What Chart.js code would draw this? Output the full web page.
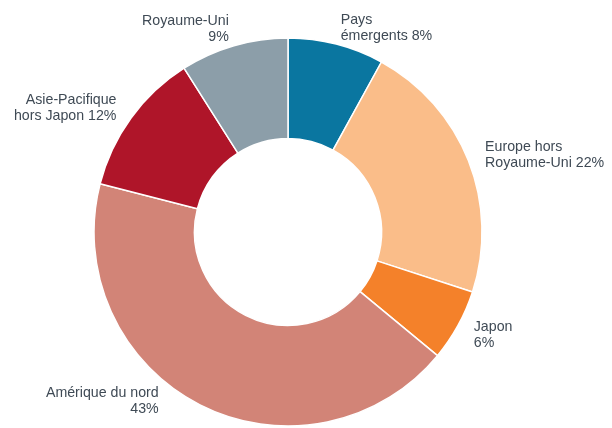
<!DOCTYPE html>
<html>
<head>
<meta charset="utf-8">
<script src="https://cdn.jsdelivr.net/npm/chart.js@4/dist/chart.umd.min.js"></script>
<style>
  html, body { margin: 0; padding: 0; background: #ffffff; }
  #wrap { width: 612px; height: 428px; position: relative; }
</style>
</head>
<body>
<div id="wrap"><canvas id="c" width="612" height="428"></canvas></div>
<script>
// Categories (each entry = the lines of its label, before the percentage)
const categories = [
  ['Pays', 'émergents'],
  ['Europe hors', 'Royaume-Uni'],
  ['Japon'],
  ['Amérique du nord'],
  ['Asie-Pacifique', 'hors Japon'],
  ['Royaume-Uni']
];
// Share of portfolio (%)
const shares = [8, 22, 6, 43, 12, 9];
const sliceColors = ['#0a76a0', '#fabd89', '#f4812a', '#d28477', '#af1529', '#8c9ea9'];
const textColor = '#3f4a55';

function labelLines(i) {
  const lines = categories[i].slice();
  const pct = shares[i] + '%';
  if (lines.length > 1) lines[lines.length - 1] += ' ' + pct;
  else lines.push(pct);
  return lines;
}

const outsideLabels = {
  id: 'outsideLabels',
  afterDraw(chart) {
    const ctx = chart.ctx;
    const meta = chart.getDatasetMeta(0);
    const gap = 18, lineH = 16, cap = 10;
    ctx.save();
    ctx.font = '14.2px "Liberation Sans", Arial, sans-serif';
    ctx.fillStyle = textColor;
    ctx.textBaseline = 'alphabetic';
    meta.data.forEach((arc, i) => {
      const p = arc.getProps(['x', 'y', 'startAngle', 'endAngle', 'outerRadius'], true);
      const mid = (p.startAngle + p.endAngle) / 2;
      const r = p.outerRadius + gap;
      const side = Math.cos(mid) >= 0 ? 1 : -1;
      let cx = p.x + Math.cos(mid) * r;
      let cy = p.y + Math.sin(mid) * r;
      const maxY = chart.height - 28;
      if (cy > maxY) {
        cy = maxY;
        const dy = cy - p.y;
        cx = p.x + side * Math.sqrt(Math.max(r * r - dy * dy, 0));
      }
      const lines = labelLines(i);
      const blockH = cap + lineH * (lines.length - 1);
      let base = cy - blockH / 2 + cap;
      ctx.textAlign = side > 0 ? 'left' : 'right';
      lines.forEach((ln, k) => {
        ctx.fillText(ln, cx, base + k * lineH);
      });
    });
    ctx.restore();
  }
};

new Chart(document.getElementById('c'), {
  type: 'doughnut',
  data: {
    labels: categories.map(c => c.join(' ')),
    datasets: [{
      data: shares,
      backgroundColor: sliceColors,
      borderColor: '#ffffff',
      borderWidth: 1.5,
      hoverOffset: 0
    }]
  },
  options: {
    responsive: false,
    animation: false,
    radius: 194,
    cutout: '48.2%',
    rotation: 0,
    layout: { padding: { top: 36, bottom: 0, left: 0, right: 36 } },
    plugins: {
      legend: { display: false },
      tooltip: { enabled: false }
    }
  },
  plugins: [outsideLabels]
});
</script>
</body>
</html>
